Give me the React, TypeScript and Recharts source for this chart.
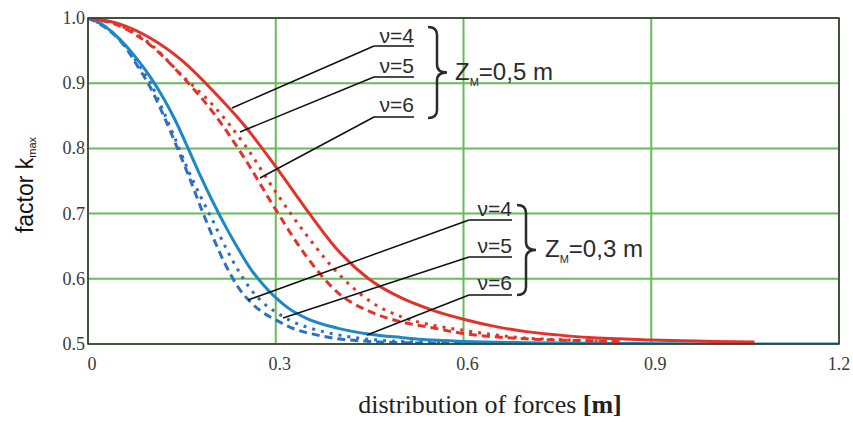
import React from "react";
import {
  CartesianGrid,
  Line,
  LineChart,
  XAxis,
  YAxis,
} from "recharts";

const X_TICKS = [0, 0.3, 0.6, 0.9, 1.2];
const K_TICKS = [0.5, 0.6, 0.7, 0.8, 0.9, 1.0];

// Z_M = 0,5 m (red)
const redSolidX = [0, 0.05, 0.1, 0.15, 0.2, 0.25, 0.3, 0.35, 0.4, 0.45, 0.5, 0.55, 0.6, 0.65, 0.7, 0.75, 0.8, 0.85, 0.9, 0.95, 1.0, 1.065];
const redSolidK = [1.0, 0.991, 0.969, 0.935, 0.888, 0.835, 0.772, 0.705, 0.643, 0.599, 0.571, 0.552, 0.538, 0.527, 0.519, 0.514, 0.51, 0.508, 0.506, 0.505, 0.504, 0.503];

const redDotX = [0, 0.05, 0.1, 0.15, 0.2, 0.25, 0.3, 0.35, 0.4, 0.45, 0.5, 0.55, 0.6, 0.65, 0.7, 0.75, 0.8, 0.85];
const redDotK = [1.0, 0.989, 0.96, 0.912, 0.866, 0.806, 0.733, 0.666, 0.608, 0.566, 0.542, 0.529, 0.521, 0.514, 0.509, 0.507, 0.505, 0.504];

const redDashX = [0, 0.05, 0.1, 0.15, 0.2, 0.25, 0.3, 0.35, 0.4, 0.45, 0.5, 0.55, 0.6, 0.65, 0.7, 0.75, 0.8, 0.85];
const redDashK = [1.0, 0.988, 0.958, 0.911, 0.855, 0.785, 0.706, 0.633, 0.578, 0.55, 0.534, 0.525, 0.516, 0.511, 0.508, 0.506, 0.505, 0.504];

// Z_M = 0,3 m (blue)
const blueSolidX = [0, 0.02, 0.04, 0.06, 0.08, 0.1, 0.12, 0.14, 0.16, 0.18, 0.2, 0.22, 0.24, 0.26, 0.28, 0.3, 0.32, 0.35, 0.4, 0.45, 0.5, 0.55, 0.6, 0.7, 0.8, 1.0, 1.2];
const blueSolidK = [1.0, 0.992, 0.977, 0.958, 0.935, 0.909, 0.878, 0.842, 0.8, 0.757, 0.717, 0.68, 0.646, 0.615, 0.591, 0.571, 0.555, 0.539, 0.524, 0.515, 0.51, 0.506, 0.504, 0.502, 0.501, 0.5, 0.5];

const blueDashX = [0, 0.02, 0.04, 0.06, 0.08, 0.1, 0.12, 0.14, 0.16, 0.18, 0.2, 0.22, 0.24, 0.26, 0.28, 0.3, 0.33, 0.37, 0.4, 0.45, 0.5, 0.6, 0.75];
const blueDashK = [1.0, 0.99, 0.976, 0.955, 0.925, 0.893, 0.852, 0.807, 0.76, 0.71, 0.663, 0.621, 0.587, 0.564, 0.548, 0.537, 0.523, 0.513, 0.508, 0.504, 0.502, 0.501, 0.5];

const blueDotX = [0, 0.02, 0.04, 0.06, 0.08, 0.1, 0.12, 0.14, 0.16, 0.18, 0.2, 0.22, 0.24, 0.26, 0.28, 0.3, 0.33, 0.36, 0.4, 0.45, 0.5, 0.6, 0.75];
const blueDotK = [1.0, 0.991, 0.977, 0.957, 0.93, 0.9, 0.858, 0.813, 0.767, 0.726, 0.688, 0.648, 0.613, 0.584, 0.563, 0.549, 0.533, 0.523, 0.514, 0.507, 0.504, 0.502, 0.5];

const zip = (xs: number[], ks: number[]) => xs.map((x, i) => ({ x, k: ks[i] }));

const W = 853;
const H = 425;
const PLOT = { left: 88, top: 18, right: 839, bottom: 344 };
const Y_AXIS_W = 40;
const X_AXIS_H = 30;

const RED = "#e2332a";
const BLUE = "#1b88c8";
const BLUE2 = "#2d70c2";
const GRID = "#68bb5a";
const INK = "#2b2b2b";

const SERIES = [
  { name: "blueDash", data: zip(blueDashX, blueDashK), color: BLUE2, dash: "8 5" },
  { name: "blueDot", data: zip(blueDotX, blueDotK), color: BLUE2, dash: "3 6" },
  { name: "blueSolid", data: zip(blueSolidX, blueSolidK), color: BLUE, dash: undefined },
  { name: "redDash", data: zip(redDashX, redDashK), color: RED, dash: "8 5" },
  { name: "redDot", data: zip(redDotX, redDotK), color: RED, dash: "3 6" },
  { name: "redSolid", data: zip(redSolidX, redSolidK), color: RED, dash: undefined },
];

function XTick({ x, y, payload }: any) {
  const v = Number(payload.value);
  // last label sits flush with the right edge of the frame
  const cx = Math.min(x + 4, W - 14);
  return (
    <text x={cx} y={y + 26} textAnchor="middle" fontFamily="'Liberation Serif', serif" fontSize={18} fill="#3a3a3a">
      {v === 0 ? "0" : v.toFixed(1)}
    </text>
  );
}

function YTick({ x, y, payload }: any) {
  return (
    <text x={x - 3} y={y + 6} textAnchor="end" fontFamily="'Liberation Serif', serif" fontSize={18} fill="#3a3a3a">
      {Number(payload.value).toFixed(1)}
    </text>
  );
}

function Brace({ x0, top, bottom }: { x0: number; top: number; bottom: number }) {
  const x1 = x0 + 9;
  const x2 = x0 + 19;
  const mid = (top + bottom) / 2;
  const r = 8;
  const d = `M ${x0} ${top} Q ${x1} ${top} ${x1} ${top + r} L ${x1} ${mid - r} Q ${x1} ${mid} ${x2} ${mid} Q ${x1} ${mid} ${x1} ${mid + r} L ${x1} ${bottom - r} Q ${x1} ${bottom} ${x0} ${bottom}`;
  return <path d={d} fill="none" stroke={INK} strokeWidth={2.5} />;
}

type Label = { text: string; baseline: number; underline: number; to: [number, number] };

const UPPER_LABELS: Label[] = [
  { text: "ν=4", baseline: 43, underline: 46, to: [232, 108] },
  { text: "ν=5", baseline: 73, underline: 77, to: [240, 132] },
  { text: "ν=6", baseline: 112, underline: 117, to: [260, 178] },
];
const LOWER_LABELS: Label[] = [
  { text: "ν=4", baseline: 216, underline: 220, to: [248, 300] },
  { text: "ν=5", baseline: 253, underline: 257, to: [283, 318] },
  { text: "ν=6", baseline: 290, underline: 295, to: [367, 335] },
];

function LabelGroup({ labels, x0, x1 }: { labels: Label[]; x0: number; x1: number }) {
  return (
    <g>
      {labels.map((l) => (
        <g key={l.text}>
          <text x={x1} y={l.baseline} textAnchor="end" fontFamily="'Liberation Sans', Arial, sans-serif" fontSize={21} fill={INK}>
            {l.text}
          </text>
          <line x1={x0} y1={l.underline} x2={x1} y2={l.underline} stroke="#111" strokeWidth={1.5} />
          <line x1={l.to[0]} y1={l.to[1]} x2={x0} y2={l.underline} stroke="#111" strokeWidth={1.5} />
        </g>
      ))}
    </g>
  );
}

function ZLabel({ x, y, value }: { x: number; y: number; value: string }) {
  return (
    <text x={x} y={y} fontFamily="'Liberation Sans', Arial, sans-serif" fontSize={24} fill={INK}>
      Z
      <tspan fontSize={11} dy={6}>M</tspan>
      <tspan dy={-6}>{`=${value} m`}</tspan>
    </text>
  );
}

export default function App() {
  return (
    <div style={{ position: "absolute", left: 0, top: 0, width: W, height: H, background: "#fff" }}>
      <LineChart
        width={W}
        height={H}
        margin={{
          top: PLOT.top,
          right: W - PLOT.right,
          bottom: H - PLOT.bottom - X_AXIS_H,
          left: PLOT.left - Y_AXIS_W,
        }}
      >
        <CartesianGrid stroke={GRID} strokeWidth={2} />
        <XAxis
          type="number"
          dataKey="x"
          domain={[0, 1.2]}
          ticks={X_TICKS}
          height={X_AXIS_H}
          tickSize={0}
          tickMargin={0}
          axisLine={false}
          tick={<XTick />}
          allowDataOverflow
        />
        <YAxis
          type="number"
          dataKey="k"
          domain={[0.5, 1.0]}
          ticks={K_TICKS}
          width={Y_AXIS_W}
          tickSize={0}
          tickMargin={0}
          axisLine={false}
          tick={<YTick />}
          allowDataOverflow
        />
        {SERIES.map((s) => (
          <Line
            key={s.name}
            data={s.data}
            dataKey="k"
            type="monotone"
            stroke={s.color}
            strokeWidth={3}
            strokeDasharray={s.dash}
            dot={false}
            activeDot={false}
            isAnimationActive={false}
          />
        ))}
      </LineChart>
      <svg width={W} height={H} style={{ position: "absolute", left: 0, top: 0, pointerEvents: "none" }}>
        <rect
          x={PLOT.left}
          y={PLOT.top}
          width={PLOT.right - PLOT.left}
          height={PLOT.bottom - PLOT.top}
          fill="none"
          stroke="#333"
          strokeWidth={1.5}
        />
        <LabelGroup labels={UPPER_LABELS} x0={374} x1={414} />
        <Brace x0={428} top={27} bottom={118} />
        <ZLabel x={455} y={80} value="0,5" />
        <LabelGroup labels={LOWER_LABELS} x0={469} x1={512} />
        <Brace x0={517} top={205} bottom={295} />
        <ZLabel x={545} y={257} value="0,3" />
        <text
          transform="rotate(-90, 33, 185)"
          x={33}
          y={185}
          textAnchor="middle"
          fontFamily="'Liberation Sans', Arial, sans-serif"
          fontSize={23}
          fill="#111"
        >
          factor k
          <tspan fontSize={11} dy={3}>max</tspan>
        </text>
        <text x={490} y={413} textAnchor="middle" fontFamily="'Liberation Serif', serif" fontSize={26} fill="#222">
          distribution of forces <tspan fontWeight="bold">[m]</tspan>
        </text>
      </svg>
    </div>
  );
}
